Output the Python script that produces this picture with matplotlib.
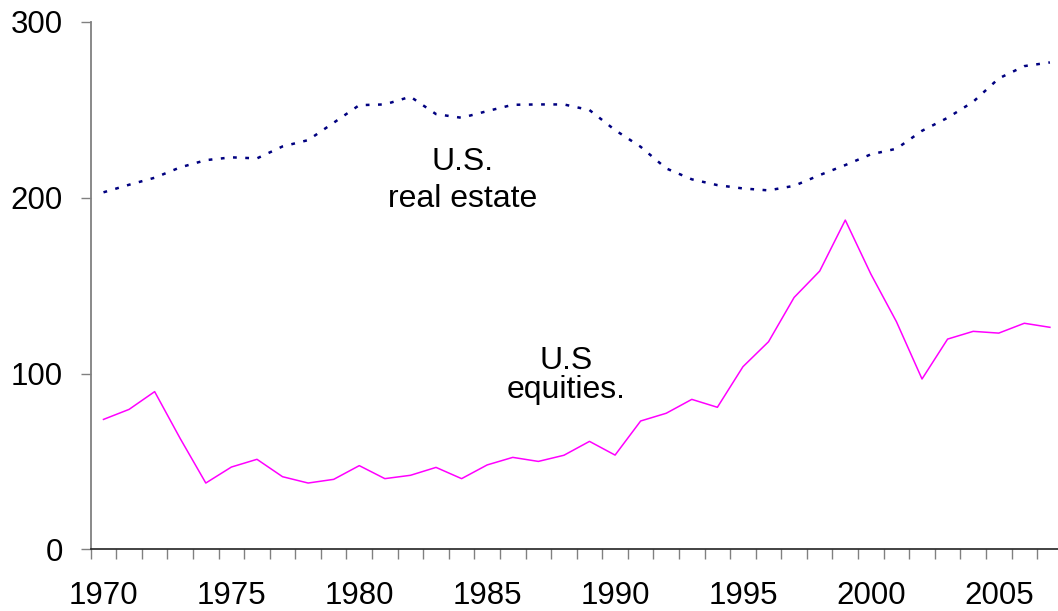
import matplotlib
matplotlib.use("Agg")
import matplotlib.pyplot as plt
from matplotlib.ticker import FixedLocator, NullFormatter

years = list(range(1970, 2008))
real_estate = [203.1, 207.4, 211.4, 217.3, 221.4, 223.0, 222.4, 229.2, 232.8, 242.7,
               252.7, 253.1, 257.5, 247.6, 245.5, 249.3, 252.9, 253.1, 253.1, 249.9,
               238.5, 229.0, 216.7, 210.5, 207.2, 205.3, 204.2, 206.8, 212.9, 218.6,
               224.7, 227.9, 238.1, 245.5, 254.6, 267.9, 274.9, 277.0]
equities = [73.9, 79.6, 89.7, 63.0, 37.7, 46.8, 51.2, 41.3, 37.7, 39.8,
            47.6, 40.2, 42.1, 46.6, 40.2, 48.0, 52.3, 50.0, 53.5, 61.4,
            53.6, 73.0, 77.4, 85.3, 80.8, 103.9, 118.1, 143.3, 158.3, 187.3,
            156.6, 129.5, 96.9, 119.6, 124.0, 123.0, 128.6, 126.3]
xtick_labels = [1970, 1975, 1980, 1985, 1990, 1995, 2000, 2005]
yticks = [0, 100, 200, 300]

plt.rcParams['font.family'] = ['Liberation Sans', 'DejaVu Sans']

fig = plt.figure(figsize=(10.58, 6.11), dpi=100)
ax = fig.add_axes([90.7 / 1058, 61.7 / 611, 972 / 1058, 527.3 / 611])

ax.plot(years, real_estate, color='#000080', lw=1.8, linestyle=(0, (1.5, 3.4)),
        dash_capstyle='butt')
ax.plot(years, equities, color='#FF00FF', lw=1.1)

ax.set_xlim(1969.5, 2007.5)
ax.set_ylim(0, 300)

for s in ['top', 'right']:
    ax.spines[s].set_visible(False)
ax.spines['left'].set_color('#808080')
ax.spines['left'].set_linewidth(1.3)
ax.spines['bottom'].set_color('#222222')
ax.spines['bottom'].set_linewidth(1.2)

ax.set_yticks(yticks)
ax.set_yticklabels([str(v) for v in yticks])
ax.tick_params(axis='y', which='major', length=7.2, width=1.0, color='#808080',
               labelsize=22.5, pad=13)

ax.xaxis.set_major_locator(FixedLocator(xtick_labels))
ax.set_xticklabels([str(v) for v in xtick_labels])
ax.xaxis.set_minor_locator(FixedLocator([y - 0.5 for y in years] + [years[-1] + 0.5]))
ax.xaxis.set_minor_formatter(NullFormatter())
ax.tick_params(axis='x', which='major', length=0, labelsize=22.5, pad=23)
ax.tick_params(axis='x', which='minor', length=7.2, width=1.0, color='#808080')

ax.text(1984.03, 215.8, 'U.S.', ha='center', va='baseline', fontsize=23)
ax.text(1984.03, 194.7, 'real estate', ha='center', va='baseline', fontsize=23)
ax.text(1988.07, 102.4, 'U.S', ha='center', va='baseline', fontsize=23)
ax.text(1988.07, 86.0, 'equities.', ha='center', va='baseline', fontsize=23)

fig.savefig('out.png', dpi=100)
